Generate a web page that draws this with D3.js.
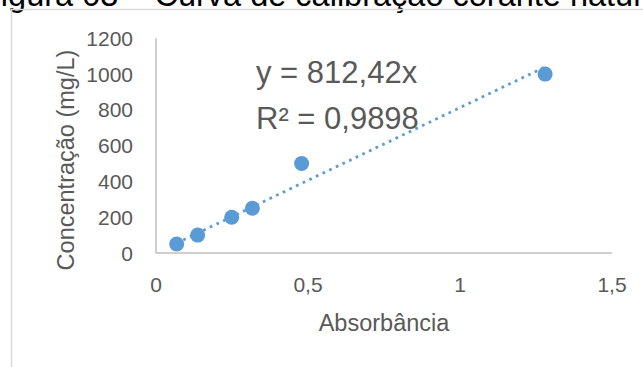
<!DOCTYPE html>
<html>
<head>
<meta charset="utf-8">
<script src="https://cdn.jsdelivr.net/npm/d3@7"></script>
<style>
  html, body { margin: 0; padding: 0; background: #fff; }
  svg { display: block; font-family: "Liberation Sans", Arial, sans-serif; }
</style>
</head>
<body>
<svg id="chart" width="643" height="367"></svg>
<script>
// absorbance readings and their concentrations (mg/L)
const absorbance = [0.068, 0.137, 0.249, 0.317, 0.479, 1.28];
const concentration = [50, 100, 200, 250, 500, 1000];
const xTicks = [0, 0.5, 1, 1.5];
const yTicks = [0, 200, 400, 600, 800, 1000, 1200];
const slope = 812.42;
const equationLines = ["y = 812,42x", "R² = 0,9898"];
const title = "Figura 03 – Curva de calibração corante natural";

const svg = d3.select("#chart");
const blue = "#5b9bd5";
const grey = "#595959";
const fmt = d => String(d).replace(".", ",");

// caption cut off at the top of the picture
svg.append("text")
    .attr("x", -19).attr("y", 6)
    .attr("font-size", 32.5).attr("fill", "#000")
    .text(title);

// chart frame (only top and left edges are in view)
svg.append("path")
    .attr("d", "M11.5,367 V9.5 H643")
    .attr("fill", "none").attr("stroke", "#d9d9d9").attr("stroke-width", 1.5);

const x = d3.scaleLinear().domain([0, 1.5]).range([156, 612]);
const y = d3.scaleLinear().domain([0, 1200]).range([253, 38.3]);

// axes lines
svg.append("line")
    .attr("x1", x(0)).attr("x2", x(1.5)).attr("y1", y(0)).attr("y2", y(0))
    .attr("stroke", "#bfbfbf").attr("stroke-width", 1.5);
svg.append("line")
    .attr("x1", x(0)).attr("x2", x(0)).attr("y1", y(0)).attr("y2", y(1200))
    .attr("stroke", "#bfbfbf").attr("stroke-width", 1.5);

// tick labels
svg.append("g").selectAll("text").data(yTicks).join("text")
    .attr("x", 133).attr("y", d => y(d)).attr("dy", "0.36em")
    .attr("text-anchor", "end").attr("font-size", 21).attr("fill", grey)
    .text(d => d);
svg.append("g").selectAll("text").data(xTicks).join("text")
    .attr("x", d => x(d)).attr("y", 292)
    .attr("text-anchor", "middle").attr("font-size", 21).attr("fill", grey)
    .text(fmt);

// axis titles
svg.append("text")
    .attr("x", x(0.75)).attr("y", 331)
    .attr("text-anchor", "middle").attr("font-size", 23.5).attr("fill", grey)
    .text("Absorbância");
svg.append("text")
    .attr("transform", "translate(74,160) rotate(-90)")
    .attr("text-anchor", "middle").attr("font-size", 23.5).attr("fill", grey)
    .text("Concentração (mg/L)");

// linear trend through the origin, over the data range
const xr = d3.extent(absorbance);
svg.append("line")
    .attr("x1", x(xr[0])).attr("y1", y(slope * xr[0]))
    .attr("x2", x(xr[1])).attr("y2", y(slope * xr[1]))
    .attr("stroke", blue).attr("stroke-width", 2.75)
    .attr("stroke-dasharray", "2.75 4.6");

// points
svg.append("g").selectAll("circle").data(absorbance).join("circle")
    .attr("cx", d => x(d)).attr("cy", (d, i) => y(concentration[i]))
    .attr("r", 7.5).attr("fill", blue);

// regression label
svg.append("g").selectAll("text").data(equationLines).join("text")
    .attr("x", 256).attr("y", (d, i) => 82.5 + i * 46)
    .attr("font-size", 31).attr("fill", grey)
    .text(d => d);
</script>
</body>
</html>
